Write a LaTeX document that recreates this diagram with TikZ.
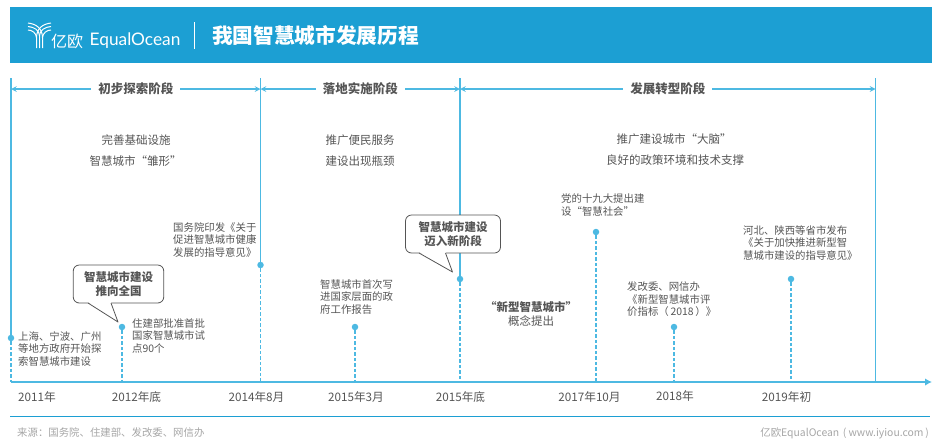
\documentclass[tikz,border=0pt]{standalone}
\usepackage{fontspec}
\usetikzlibrary{arrows.meta}
\setmainfont{Noto Sans CJK SC}
\newfontfamily\logofont{Lato}
\definecolor{headblue}{HTML}{1C9FD3}
\definecolor{lineblue}{HTML}{4DB9E2}
\definecolor{bodygray}{HTML}{555555}
\definecolor{notegray}{HTML}{A6A6A6}
\tikzset{
	phaselabel/.style={fill=white, inner xsep=7pt, inner ysep=1pt, text=bodygray, font=\fontsize{12.5}{15}\selectfont\bfseries},
	goaltext/.style={inner sep=0pt, text=bodygray, font=\fontsize{11.5}{14}\selectfont},
	eventtext/.style={anchor=west, align=left, inner sep=0pt, text=bodygray, font=\fontsize{10.4}{12.5}\selectfont},
	datetext/.style={inner sep=0pt, text=bodygray, font=\fontsize{11.7}{14}\selectfont},
	notetext/.style={inner sep=0pt, text=notegray, font=\fontsize{10.4}{12.5}\selectfont},
	dotmark/.style={circle, fill=lineblue, inner sep=0pt, minimum size=6.5pt},
	calloutbox/.style={draw=bodygray, fill=white, rounded corners=6pt, line width=0.8pt, align=center, text=bodygray, inner sep=0pt, font=\fontsize{11.5}{14.5}\selectfont\bfseries},
	solidline/.style={lineblue, line width=1.5pt},
	dashline/.style={lineblue, line width=1.5pt, dash pattern=on 3.5pt off 2pt},
	logostrand/.style={white, line width=1pt}
}
\begin{document}
\begin{tikzpicture}[x=1pt, y=-1pt, >=stealth]
	\useasboundingbox (0,0) rectangle (941,445);

	% header band
	\fill[headblue] (10,7) rectangle (931.5,63);
	\draw[white, line width=1pt] (194.5,22)--(194.5,49);
	\node[white, inner sep=0pt, font=\fontsize{20.7}{24}\selectfont\bfseries] (title) at (315.5,36) {我国智慧城市发展历程};
	\node[white, anchor=west, inner sep=0pt, font=\fontsize{16}{18}\selectfont] (logoCn) at (51,41) {亿欧};
	\node[white, anchor=west, inner sep=0pt, font=\logofont\fontsize{17.3}{20}\selectfont] (logoEn) at (89.5,41) {EqualOcean};
	% logo strands
	\draw[logostrand] (28,23) .. controls (36,24) and (42.5,28) .. (42.5,38)--(42.5,48);
	\draw[logostrand] (51,23) .. controls (43,24) and (36.5,28) .. (36.5,38)--(36.5,48);
	\draw[logostrand] (28,26.5) .. controls (34,27) and (39.5,30) .. (39.5,36)--(39.5,48);
	\draw[logostrand] (51,26.5) .. controls (45,27) and (39.5,30) .. (39.5,36);
	\draw[logostrand] (28,30) .. controls (32,30) and (36.5,33) .. (36.5,38);
	\draw[logostrand] (51,30) .. controls (47,30) and (42.5,33) .. (42.5,38);

	% phase borders and event stems
	\coordinate (topA) at (11,78);
	\coordinate (topB) at (260.5,78);
	\coordinate (topC) at (460,78);
	\coordinate (topD) at (875.5,78);
	\coordinate (axisL) at (11,382);
	\coordinate (axisR) at (932,382);

	\node[dotmark] (dotA) at (11,338) {};
	\node[dotmark] (dotB) at (122,327) {};
	\node[dotmark] (dotC) at (260.5,265) {};
	\node[dotmark] (dotD) at (355,327) {};
	\node[dotmark] (dotE) at (460,279) {};
	\node[dotmark] (dotF) at (596,232) {};
	\node[dotmark] (dotG) at (674,327) {};
	\node[dotmark] (dotH) at (791,279) {};

	\draw[solidline] (topA)--(dotA);
	\draw[solidline] (topB)--(dotC);
	\draw[solidline] (topC)--(dotE);
	\draw[solidline] (topD)--(875.5,382);
	\draw[dashline] (dotA)--(axisL);
	\draw[dashline] (dotB)--(122,382);
	\draw[dashline] (dotC)--(260.5,382);
	\draw[dashline] (dotD)--(355,382);
	\draw[dashline] (dotE)--(460,382);
	\draw[dashline] (dotF)--(596,382);
	\draw[dashline] (dotG)--(674,382);
	\draw[dashline] (dotH)--(791,382);
	\draw[lineblue, line width=2.2pt, -{Latex[length=7pt,width=7.5pt]}] (axisL)--(axisR);

	% phase spans
	\coordinate (spanA) at (11,89);
	\coordinate (spanB) at (260.5,89);
	\coordinate (spanC) at (460,89);
	\coordinate (spanD) at (875.5,89);
	\draw[solidline, <->] (spanA)--(spanB) node[midway, phaselabel] (phaseA) {初步探索阶段};
	\draw[solidline, <->] (spanB)--(spanC) node[midway, phaselabel] (phaseB) {落地实施阶段};
	\draw[solidline, <->] (spanC)--(spanD) node[midway, phaselabel] (phaseC) {发展转型阶段};

	\node[goaltext] (goalA) at (136,140) {完善基础设施};
	\node[goaltext] (goalB) at (135.5,161) {智慧城市“雏形”};
	\node[goaltext] (goalC) at (360,140) {推广便民服务};
	\node[goaltext] (goalD) at (360,161) {建设出现瓶颈};
	\node[goaltext] (goalE) at (674,139) {推广建设城市“大脑”};
	\node[goaltext] (goalF) at (675,160) {良好的政策环境和技术支撑};

	% events
	\node[eventtext] (eventA) at (18,349) {上海、宁波、广州\\等地方政府开始探\\索智慧城市建设};
	\node[eventtext] (eventB) at (132,336) {住建部批准首批\\国家智慧城市试\\点90个};
	\node[eventtext] (eventC) at (173,240) {国务院印发《关于\\促进智慧城市健康\\发展的指导意见》};
	\node[eventtext] (eventD) at (320,297) {智慧城市首次写\\进国家层面的政\\府工作报告};
	\node[eventtext] (eventF) at (561,205) {党的十九大提出建\\设“智慧社会”};
	\node[eventtext] (eventG) at (627,299.5) {发改委、网信办\\《新型智慧城市评\\价指标（\,2018\,）》};
	\node[eventtext] (eventH) at (743,243) {河北、陕西等省市发布\\《关于加快推进新型智\\慧城市建设的指导意见》};
	\node[goaltext, font=\fontsize{11.5}{14}\selectfont\bfseries] (conceptA) at (531,307) {“新型智慧城市”};
	\node[goaltext] (conceptB) at (531,321) {概念提出};

	% callouts
	\node[calloutbox, minimum width=90.5pt, minimum height=38pt] (callA) at (118.5,284) {智慧城市建设\\推向全国};
	\coordinate (tipA) at (118,322);
	\fill[white] (88,302)--(tipA)--(111,302)--cycle;
	\draw[bodygray, line width=0.8pt, line join=round] (88,303)--(tipA)--(111,303);
	\node[calloutbox, minimum width=95pt, minimum height=38pt] (callB) at (453,234) {智慧城市建设\\迈入新阶段};
	\coordinate (tipB) at (452.5,272);
	\fill[white] (419,252)--(tipB)--(445.5,252)--cycle;
	\draw[bodygray, line width=0.8pt, line join=round] (419,253)--(tipB)--(445.5,253);

	% dates
	\node[datetext] (dateA) at (37,397) {2011年};
	\node[datetext] (dateB) at (136.5,397) {2012年底};
	\node[datetext] (dateC) at (256.5,397) {2014年8月};
	\node[datetext] (dateD) at (356,397) {2015年3月};
	\node[datetext] (dateE) at (460.5,397) {2015年底};
	\node[datetext] (dateF) at (589.5,397) {2017年10月};
	\node[datetext] (dateG) at (675,396.5) {2018年};
	\node[datetext] (dateH) at (786.5,397.5) {2019年初};

	% footer
	\draw[headblue, line width=1pt] (10,416.5)--(930,416.5);
	\node[notetext, anchor=west] (source) at (17,433) {来源：国务院、住建部、发改委、网信办};
	\node[notetext, anchor=east] (site) at (929,433) {亿欧EqualOcean\,\,( www.iyiou.com\,)};
\end{tikzpicture}
\end{document}
